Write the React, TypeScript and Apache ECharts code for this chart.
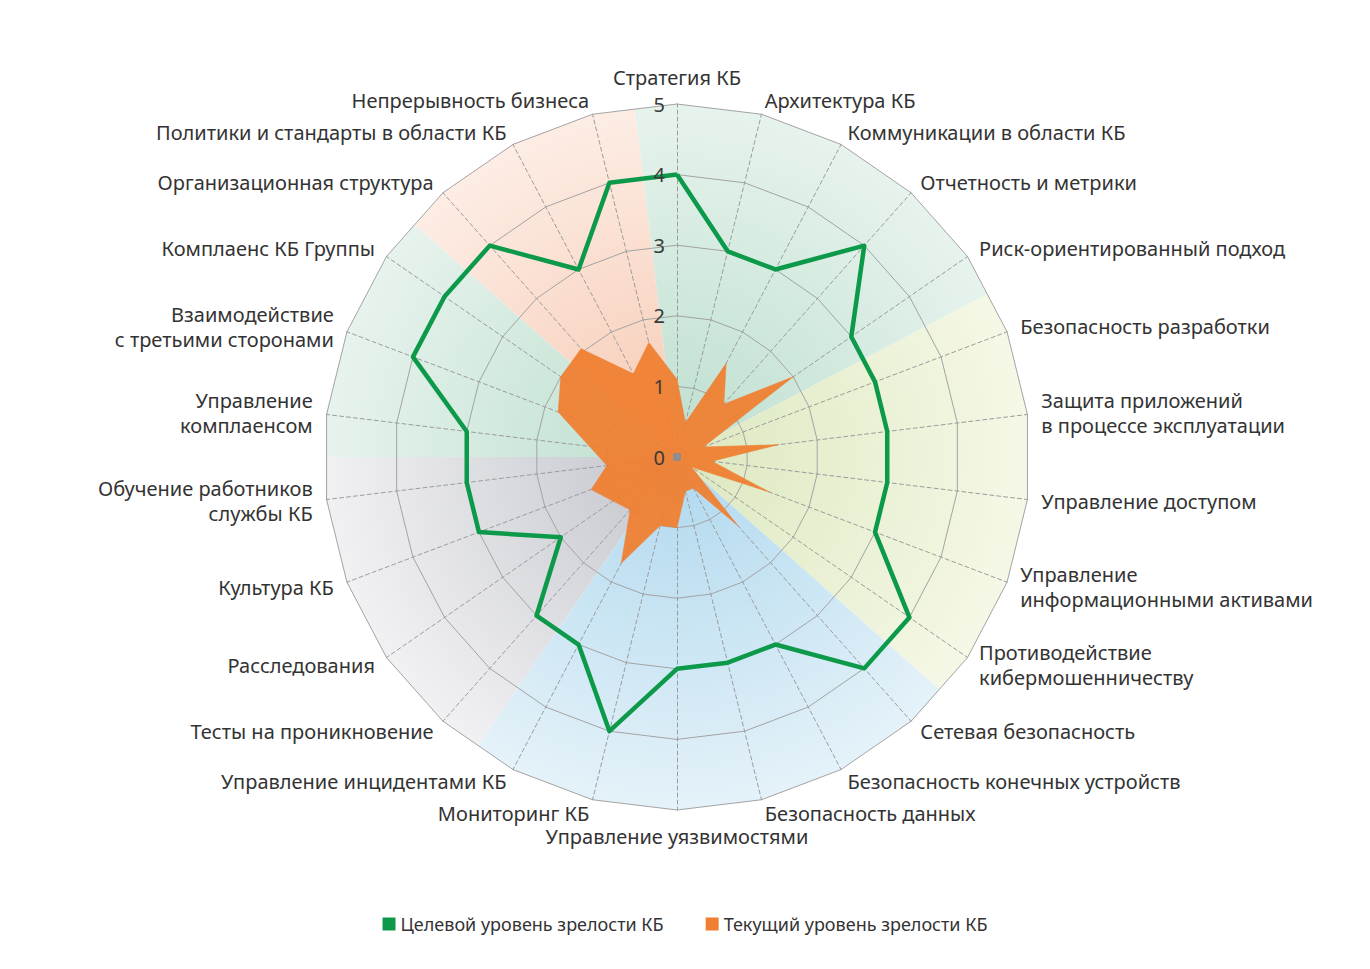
import React, { useRef, useEffect } from 'react';
import * as echarts from 'echarts';

// показатели по часовой стрелке, начиная сверху
const indicatorNames = [
    'Стратегия КБ',
    'Архитектура КБ',
    'Коммуникации в области КБ',
    'Отчетность и метрики',
    'Риск-ориентированный подход',
    'Безопасность разработки',
    'Защита приложений\nв процессе эксплуатации',
    'Управление доступом',
    'Управление\nинформационными активами',
    'Противодействие\nкибермошенничеству',
    'Сетевая безопасность',
    'Безопасность конечных устройств',
    'Безопасность данных',
    'Управление уязвимостями',
    'Мониторинг КБ',
    'Управление инцидентами КБ',
    'Тесты на проникновение',
    'Расследования',
    'Культура КБ',
    'Обучение работников\nслужбы КБ',
    'Управление\nкомплаенсом',
    'Взаимодействие\nс третьими сторонами',
    'Комплаенс КБ Группы',
    'Организационная структура',
    'Политики и стандарты в области КБ',
    'Непрерывность бизнеса'
];

const targetLevel = [4, 3, 3, 4, 3, 3, 3, 3, 3, 4, 4, 3, 3, 3, 4, 3, 3, 2, 3, 3, 3, 4, 4, 4, 3, 4];
const currentLevel = [1.1, 0.5, 1.5, 1.0, 2.0, 0.4, 1.45, 0.5, 1.4, 0.25, 1.3, 0.5, 0.5, 1.0, 1.0, 1.7, 1.0, 1.1, 1.3, 1.0, 1.25, 1.8, 2.0, 2.05, 1.33, 1.67];

const maxLevel = 5;
const seriesNames = ['Целевой уровень зрелости КБ', 'Текущий уровень зрелости КБ'];

// цветные секторы фона: первая и последняя ось группы
const sectorFirst = [0, 5, 10, 16, 20, 23];
const sectorLast = [4, 9, 15, 19, 22, 25];
const sectorInner = ['#bcdfce', '#dce8bf', '#afd8ee', '#c3c5cc', '#bcdfce', '#f6c9b2'];
const sectorOuter = ['#e7f3ed', '#f5f8e6', '#e5f2f9', '#f1f1f3', '#e7f3ed', '#fdede5'];

const GREEN = '#0c9a4a';
const ORANGE = '#ef7f32';
const FONT = '"Noto Sans", sans-serif';

const CX = 669;
const CY = 449;
const R = 353;

// radar в echarts идёт против часовой стрелки
const ccw = <T,>(arr: T[]): T[] => [arr[0], ...arr.slice(1).reverse()];

const sectorValues = (first: number, last: number) => {
    const n = indicatorNames.length;
    const vals: number[] = [];
    for (let j = 0; j < n * 2; j++) {
        const pos = j / 2;
        const d = (((pos - (first - 0.5)) % n) + n) % n;
        const inside = d <= last - first + 1 + 1e-9;
        vals.push(inside ? (j % 2 === 0 ? maxLevel : maxLevel * Math.cos(Math.PI / n)) : 0);
    }
    return ccw(vals);
};

const hiddenRadar = {
    center: [CX, CY],
    radius: R,
    startAngle: 90,
    splitNumber: 5,
    silent: true,
    axisName: { show: false },
    axisLine: { show: false },
    axisTick: { show: false },
    axisLabel: { show: false },
    splitLine: { show: false },
    splitArea: { show: false }
};

const RadarChart = () => {
    const chartRef = useRef(null);

    useEffect(() => {
        const myChart = echarts.init(chartRef.current, null, { renderer: 'svg' });

        const option = {
            animation: false,
            legend: {
                data: seriesNames,
                top: 902,
                left: 'center',
                icon: 'rect',
                itemWidth: 13,
                itemHeight: 13,
                itemGap: 42,
                textStyle: { fontSize: 18, color: '#333', fontFamily: FONT }
            },
            radar: [
                {
                    center: [CX, CY],
                    radius: R,
                    startAngle: 90,
                    splitNumber: 5,
                    z: 2,
                    indicator: ccw(indicatorNames).map((name) => ({ name, min: 0, max: maxLevel })),
                    nameGap: 14,
                    axisName: { color: '#333', fontSize: 20, lineHeight: 25, fontFamily: FONT },
                    axisLabel: { show: false },
                    axisLine: { lineStyle: { color: '#9c9c9c', width: 1, type: [4, 3] } },
                    splitLine: { lineStyle: { color: '#a3a3a3', width: 1 } },
                    splitArea: { show: false }
                },
                {
                    // фон секторов: оси через середины граней
                    ...hiddenRadar,
                    z: 0,
                    indicator: sectorValues(0, 0).map(() => ({ name: '', min: 0, max: maxLevel }))
                },
                {
                    // подписи шкалы поверх заливки
                    ...hiddenRadar,
                    z: 6,
                    indicator: indicatorNames.map((n, i) => ({
                        name: '',
                        min: 0,
                        max: maxLevel,
                        axisLabel: {
                            show: i === 0,
                            color: '#3a3a3a',
                            fontSize: 20,
                            fontFamily: FONT,
                            margin: 12
                        }
                    }))
                }
            ],
            series: [
                {
                    type: 'radar',
                    radarIndex: 1,
                    z: 1,
                    silent: true,
                    symbol: 'none',
                    lineStyle: { width: 0 },
                    data: sectorFirst.map((first, i) => ({
                        value: sectorValues(first, sectorLast[i]),
                        lineStyle: { width: 0 },
                        areaStyle: {
                            opacity: 1,
                            color: {
                                type: 'radial',
                                x: CX,
                                y: CY,
                                r: R,
                                global: true,
                                colorStops: [
                                    { offset: 0, color: sectorInner[i] },
                                    { offset: 1, color: sectorOuter[i] }
                                ]
                            }
                        }
                    }))
                },
                {
                    name: seriesNames[1],
                    type: 'radar',
                    radarIndex: 0,
                    z: 3,
                    symbol: 'none',
                    itemStyle: { color: ORANGE },
                    lineStyle: { width: 0.5, color: ORANGE },
                    areaStyle: { color: ORANGE, opacity: 0.95 },
                    data: [{ name: seriesNames[1], value: ccw(currentLevel) }]
                },
                {
                    name: seriesNames[0],
                    type: 'radar',
                    radarIndex: 0,
                    z: 4,
                    symbol: 'none',
                    itemStyle: { color: GREEN },
                    lineStyle: { width: 4.5, color: GREEN },
                    data: [{ name: seriesNames[0], value: ccw(targetLevel) }]
                },
                {
                    type: 'radar',
                    radarIndex: 0,
                    z: 5,
                    silent: true,
                    symbol: 'circle',
                    symbolSize: 8,
                    itemStyle: { color: '#8e8e8e' },
                    lineStyle: { width: 0 },
                    data: [{ value: indicatorNames.map(() => 0) }]
                }
            ]
        };

        myChart.setOption(option);

        return () => {
            myChart.dispose();
        };
    }, []);

    return (
        <div
            ref={chartRef}
            style={{
                width: '1354px',
                height: '950px'
            }}
        />
    );
};

export default RadarChart;
